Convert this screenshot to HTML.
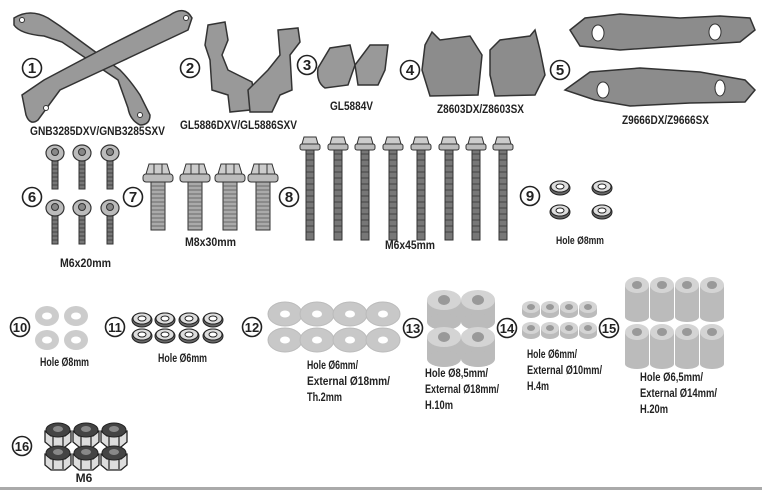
<!DOCTYPE html>
<html><head><meta charset="utf-8"><style>
html,body{margin:0;padding:0;background:#fff;}
svg{display:block}
text{font-family:"Liberation Sans Narrow","Liberation Sans",sans-serif;font-weight:bold;fill:#222;}
.n{font-size:15px;text-anchor:middle}
.l{font-size:12px}
</style></head><body>
<svg width="762" height="490" viewBox="0 0 762 490" xmlns="http://www.w3.org/2000/svg">
<defs>
<g id="c"><circle r="9.5" fill="#fff" stroke="#222" stroke-width="1.6"/></g>
<g id="b6"><rect x="-3" y="0" width="6" height="34" fill="#777" stroke="#333" stroke-width="1"/><path d="M-3 6h6M-3 10h6M-3 14h6M-3 18h6M-3 22h6M-3 26h6M-3 30h6" stroke="#333" stroke-width="0.8"/><ellipse cx="0" cy="-2" rx="9" ry="8" fill="#bbb" stroke="#333" stroke-width="1.2"/><circle cx="0" cy="-3" r="3.5" fill="#888" stroke="#333"/></g>
<g id="b7"><rect x="-7" y="0" width="14" height="50" fill="#aaa" stroke="#333" stroke-width="1"/><path d="M-7 6h14M-7 10h14M-7 14h14M-7 18h14M-7 22h14M-7 26h14M-7 30h14M-7 34h14M-7 38h14M-7 42h14M-7 46h14" stroke="#555" stroke-width="0.7"/><rect x="-15" y="-6" width="30" height="8" rx="3" fill="#bbb" stroke="#333"/><path d="M-12 -6 L-9 -16 H9 L12 -6Z" fill="#ccc" stroke="#333"/><path d="M-4 -16 V-6 M4 -16 V-6" stroke="#333"/></g>
<g id="b8"><rect x="-4" y="0" width="8" height="92" fill="#777" stroke="#333" stroke-width="1"/><path d="M-4 6h8M-4 12h8M-4 18h8M-4 24h8M-4 30h8M-4 36h8M-4 42h8M-4 48h8M-4 54h8M-4 60h8M-4 66h8M-4 72h8M-4 78h8M-4 84h8" stroke="#333" stroke-width="0.8"/><rect x="-10" y="-4" width="20" height="6" rx="2" fill="#bbb" stroke="#333"/><path d="M-8 -4 L-6 -11 H6 L8 -4Z" fill="#ccc" stroke="#333"/></g>
<g id="lw"><ellipse rx="10" ry="7" fill="#666" stroke="#222"/><ellipse cy="-1.5" rx="9" ry="5.5" fill="#ddd" stroke="#222"/><ellipse cy="-1.5" rx="4" ry="2.5" fill="#fff" stroke="#222"/></g>
<g id="w10"><ellipse rx="12" ry="10" fill="#ccc"/><ellipse rx="5" ry="3.5" fill="#fff"/></g>
<g id="w12"><ellipse rx="17" ry="12" fill="#c8c8c8" stroke="#bbb"/><ellipse rx="5" ry="3.5" fill="#fff"/></g>
<g id="s13"><rect x="-17" y="0" width="34" height="22" fill="#bbb"/><ellipse cy="22" rx="17" ry="8" fill="#bbb"/><ellipse rx="17" ry="10" fill="#d4d4d4"/><ellipse rx="6" ry="5" fill="#999"/></g>
<g id="s14"><rect x="-9" y="0" width="18" height="6" fill="#bbb"/><ellipse cy="6" rx="9" ry="5" fill="#bbb"/><ellipse rx="9" ry="6" fill="#d4d4d4"/><ellipse rx="4" ry="3" fill="#999"/></g>
<g id="s15"><rect x="-12" y="0" width="24" height="32" fill="#bbb"/><ellipse cy="32" rx="12" ry="5" fill="#bbb"/><ellipse rx="12" ry="8" fill="#d4d4d4"/><ellipse rx="5" ry="4" fill="#999"/></g>
<g id="nut"><path d="M-13 -3 L-13 8 L-7 13 H7 L13 8 L13 -3Z" fill="#ddd" stroke="#222" stroke-width="1.3"/><path d="M-5 2V12M5 2V12M-13 -3 L-7 2 H7 L13 -3" stroke="#222" fill="none" stroke-width="1.2"/><ellipse cy="-4" rx="12" ry="7" fill="#444" stroke="#222"/><ellipse cy="-5" rx="5" ry="3" fill="#888"/></g>
</defs>

<!-- 1 -->
<g fill="#999" stroke="#333" stroke-width="1.5">
<path d="M14 18 Q30 8 48 18 L60 26 L120 70 Q130 80 140 95 L150 115 Q150 125 140 125 Q130 120 128 108 L118 80 L62 42 L44 36 Q20 34 14 25Z"/>
<path d="M170 15 Q185 5 192 18 L188 30 L120 62 L60 90 L38 120 Q30 126 26 115 L22 95 L44 80 L110 45Z"/>
</g>
<g fill="#fff" stroke="#333"><circle cx="22" cy="20" r="2.5"/><circle cx="186" cy="18" r="2.5"/><circle cx="46" cy="108" r="2.5"/><circle cx="140" cy="115" r="2.5"/></g>
<!-- 2 -->
<g fill="#999" stroke="#333" stroke-width="1.5">
<path d="M208 25 L225 22 L228 40 L222 55 L228 70 L252 82 L255 100 L250 110 L230 112 L228 95 L212 90 L210 60 L205 45Z"/>
<path d="M278 30 L298 28 L300 42 L290 55 L292 90 L280 95 L272 112 L250 112 L248 90 L268 70 L280 55Z"/>
</g>
<!-- 3 -->
<g fill="#999" stroke="#333" stroke-width="1.5">
<path d="M318 68 L330 48 L350 45 L355 65 L348 85 L325 88 Q316 82 318 68Z"/>
<path d="M355 65 L370 45 L388 45 L385 70 L378 85 L358 85 Z"/>
</g>
<!-- 4 -->
<g fill="#8c8c8c" stroke="#333" stroke-width="1.5">
<path d="M425 45 L432 32 L440 40 L470 36 L482 55 L478 95 L430 96 L422 70Z"/>
<path d="M490 50 L500 40 L530 36 L535 30 L540 50 L545 75 L535 95 L495 96 L490 75Z"/>
</g>
<!-- 5 -->
<g fill="#8c8c8c" stroke="#333" stroke-width="1.5">
<path d="M570 30 L585 18 L620 14 L680 18 L720 16 L750 18 L755 30 L740 42 L680 46 L620 50 L580 46Z"/>
<path d="M565 90 L590 72 L640 68 L700 72 L745 80 L755 90 L745 102 L690 103 L630 106 L595 100Z"/>
</g>
<g fill="#fff" stroke="#333"><ellipse cx="598" cy="33" rx="6" ry="8"/><ellipse cx="715" cy="32" rx="6" ry="8"/><ellipse cx="603" cy="90" rx="6" ry="8"/><ellipse cx="720" cy="88" rx="5" ry="8"/></g>

<use href="#c" x="32" y="68"/><text class="n" x="32" y="73">1</text>
<use href="#c" x="190" y="68"/><text class="n" x="190" y="73">2</text>
<use href="#c" x="307" y="65"/><text class="n" x="307" y="70">3</text>
<use href="#c" x="410" y="70"/><text class="n" x="410" y="75">4</text>
<use href="#c" x="560" y="70"/><text class="n" x="560" y="75">5</text>
<text class="l" x="30" y="135" textLength="135" lengthAdjust="spacingAndGlyphs">GNB3285DXV/GNB3285SXV</text>
<text class="l" x="180" y="129" textLength="117" lengthAdjust="spacingAndGlyphs">GL5886DXV/GL5886SXV</text>
<text class="l" x="330" y="110" textLength="43" lengthAdjust="spacingAndGlyphs">GL5884V</text>
<text class="l" x="437" y="113" textLength="87" lengthAdjust="spacingAndGlyphs">Z8603DX/Z8603SX</text>
<text class="l" x="622" y="124" textLength="87" lengthAdjust="spacingAndGlyphs">Z9666DX/Z9666SX</text>

<!-- 6 -->
<use href="#b6" x="55" y="155"/><use href="#b6" x="82" y="155"/><use href="#b6" x="110" y="155"/>
<use href="#b6" x="55" y="210"/><use href="#b6" x="82" y="210"/><use href="#b6" x="110" y="210"/>
<use href="#c" x="32" y="197"/><text class="n" x="32" y="202">6</text>
<text class="l" x="60" y="267" textLength="51" lengthAdjust="spacingAndGlyphs">M6x20mm</text>
<!-- 7 -->
<use href="#b7" x="158" y="180"/><use href="#b7" x="195" y="180"/><use href="#b7" x="230" y="180"/><use href="#b7" x="263" y="180"/>
<use href="#c" x="133" y="197"/><text class="n" x="133" y="202">7</text>
<text class="l" x="185" y="246" textLength="51" lengthAdjust="spacingAndGlyphs">M8x30mm</text>
<!-- 8 -->
<use href="#b8" x="310" y="148"/><use href="#b8" x="338" y="148"/><use href="#b8" x="365" y="148"/><use href="#b8" x="393" y="148"/><use href="#b8" x="421" y="148"/><use href="#b8" x="449" y="148"/><use href="#b8" x="476" y="148"/><use href="#b8" x="503" y="148"/>
<use href="#c" x="289" y="197"/><text class="n" x="289" y="202">8</text>
<text class="l" x="385" y="249" textLength="50" lengthAdjust="spacingAndGlyphs">M6x45mm</text>
<!-- 9 -->
<use href="#lw" x="560" y="188"/><use href="#lw" x="602" y="188"/><use href="#lw" x="560" y="212"/><use href="#lw" x="602" y="212"/>
<use href="#c" x="530" y="196"/><text class="n" x="530" y="201">9</text>
<text class="l" x="556" y="244" style="font-size:11px" textLength="48" lengthAdjust="spacingAndGlyphs">Hole Ø8mm</text>

<!-- 10 -->
<use href="#w10" x="47" y="316"/><use href="#w10" x="76" y="316"/><use href="#w10" x="47" y="340"/><use href="#w10" x="76" y="340"/>
<use href="#c" x="20" y="327"/><text class="n" x="20" y="332" style="font-size:13px">10</text>
<text class="l" x="40" y="366" textLength="49" lengthAdjust="spacingAndGlyphs">Hole Ø8mm</text>
<!-- 11 -->
<use href="#lw" x="142" y="320"/><use href="#lw" x="165" y="320"/><use href="#lw" x="189" y="320"/><use href="#lw" x="213" y="320"/>
<use href="#lw" x="142" y="336"/><use href="#lw" x="165" y="336"/><use href="#lw" x="189" y="336"/><use href="#lw" x="213" y="336"/>
<use href="#c" x="115" y="327"/><text class="n" x="115" y="332" style="font-size:13px">11</text>
<text class="l" x="158" y="362" textLength="49" lengthAdjust="spacingAndGlyphs">Hole Ø6mm</text>
<!-- 12 -->
<use href="#w12" x="285" y="314"/><use href="#w12" x="317" y="314"/><use href="#w12" x="350" y="314"/><use href="#w12" x="383" y="314"/>
<use href="#w12" x="285" y="340"/><use href="#w12" x="317" y="340"/><use href="#w12" x="350" y="340"/><use href="#w12" x="383" y="340"/>
<use href="#c" x="252" y="327"/><text class="n" x="252" y="332" style="font-size:13px">12</text>
<text class="l" x="307" y="369" textLength="51" lengthAdjust="spacingAndGlyphs">Hole Ø6mm/</text><text class="l" x="307" y="385" textLength="83" lengthAdjust="spacingAndGlyphs">External Ø18mm/</text><text class="l" x="307" y="401" textLength="35" lengthAdjust="spacingAndGlyphs">Th.2mm</text>
<!-- 13 -->
<use href="#s13" x="444" y="300"/><use href="#s13" x="478" y="300"/><use href="#s13" x="444" y="337"/><use href="#s13" x="478" y="337"/>
<use href="#c" x="413" y="328"/><text class="n" x="413" y="333" style="font-size:13px">13</text>
<text class="l" x="425" y="377" textLength="63" lengthAdjust="spacingAndGlyphs">Hole Ø8,5mm/</text><text class="l" x="425" y="393" textLength="74" lengthAdjust="spacingAndGlyphs">External Ø18mm/</text><text class="l" x="425" y="409" textLength="28" lengthAdjust="spacingAndGlyphs">H.10m</text>
<!-- 14 -->
<use href="#s14" x="531" y="307"/><use href="#s14" x="550" y="307"/><use href="#s14" x="569" y="307"/><use href="#s14" x="588" y="307"/>
<use href="#s14" x="531" y="328"/><use href="#s14" x="550" y="328"/><use href="#s14" x="569" y="328"/><use href="#s14" x="588" y="328"/>
<use href="#c" x="507" y="328"/><text class="n" x="507" y="333" style="font-size:13px">14</text>
<text class="l" x="527" y="358" textLength="50" lengthAdjust="spacingAndGlyphs">Hole Ø6mm/</text><text class="l" x="527" y="374" textLength="75" lengthAdjust="spacingAndGlyphs">External Ø10mm/</text><text class="l" x="527" y="390" textLength="22" lengthAdjust="spacingAndGlyphs">H.4m</text>
<!-- 15 -->
<use href="#s15" x="637" y="285"/><use href="#s15" x="662" y="285"/><use href="#s15" x="687" y="285"/><use href="#s15" x="712" y="285"/>
<use href="#s15" x="637" y="332"/><use href="#s15" x="662" y="332"/><use href="#s15" x="687" y="332"/><use href="#s15" x="712" y="332"/>
<use href="#c" x="609" y="328"/><text class="n" x="609" y="333" style="font-size:13px">15</text>
<text class="l" x="640" y="381" textLength="63" lengthAdjust="spacingAndGlyphs">Hole Ø6,5mm/</text><text class="l" x="640" y="397" textLength="77" lengthAdjust="spacingAndGlyphs">External Ø14mm/</text><text class="l" x="640" y="413" textLength="28" lengthAdjust="spacingAndGlyphs">H.20m</text>
<!-- 16 -->
<use href="#nut" x="58" y="434"/><use href="#nut" x="86" y="434"/><use href="#nut" x="114" y="434"/>
<use href="#nut" x="58" y="457"/><use href="#nut" x="86" y="457"/><use href="#nut" x="114" y="457"/>
<use href="#c" x="22" y="446"/><text class="n" x="22" y="451" style="font-size:13px">16</text>
<text class="l" x="84" y="482" text-anchor="middle">M6</text>

<rect x="0" y="487" width="762" height="3" fill="#aaa"/>
</svg>
</body></html>
